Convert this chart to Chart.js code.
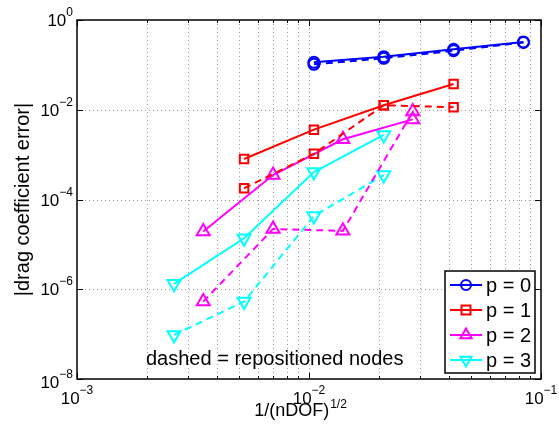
<!DOCTYPE html>
<html>
<head>
<meta charset="utf-8">
<script src="https://cdn.jsdelivr.net/npm/chart.js@4.4.1/dist/chart.umd.min.js"></script>
<style>
  html, body { margin: 0; padding: 0; background: #fff; }
  #wrap { width: 559px; height: 437px; }
</style>
</head>
<body>
<div id="wrap"><canvas id="mycanvas"></canvas></div>
<script>
// values
var labels = ["p = 0", "p = 1", "p = 2", "p = 3"];
var colors = ["#0000ff", "#ff0000", "#ff00ff", "#00ffff"];
var markers = ["circle", "rect", "triangle", "triangleDown"];

var xP0 = [0.0105, 0.021, 0.042, 0.084];
var p0Solid = [0.114, 0.152, 0.222, 0.324];
var p0Dashed = [0.103, 0.140, 0.207, 0.315];

var xP1 = [0.00525, 0.0105, 0.021, 0.042];
var p1Solid = [8.0e-4, 3.6e-3, 1.26e-2, 3.76e-2];
var p1Dashed = [1.78e-4, 1.04e-3, 1.26e-2, 1.14e-2];

var xP2 = [0.0035, 0.007, 0.014, 0.028];
var p2Solid = [1.93e-5, 3.5e-4, 2.2e-3, 6.1e-3];
var p2Dashed = [5.3e-7, 2.2e-5, 2.0e-5, 9.1e-3];

var xP3 = [0.00262, 0.00525, 0.0105, 0.021];
var p3Solid = [1.32e-6, 1.37e-5, 4.1e-4, 2.75e-3];
var p3Dashed = [9.6e-8, 5.3e-7, 4.3e-5, 3.5e-4];

var xTicks = [1e-3, 1e-2, 1e-1];
var xTickExp = ["\u22123", "\u22122", "\u22121"];
var yTicks = [1e-8, 1e-6, 1e-4, 1e-2, 1e0];
var yTickExp = ["\u22128", "\u22126", "\u22124", "\u22122", "0"];

var FONT = '"Liberation Sans", Arial, Helvetica, sans-serif';

function pts(xs, ys) {
  var out = [];
  for (var i = 0; i < xs.length; i++) out.push({x: xs[i], y: ys[i]});
  return out;
}

var xs = [xP0, xP1, xP2, xP3];
var solid = [p0Solid, p1Solid, p2Solid, p3Solid];
var dashed = [p0Dashed, p1Dashed, p2Dashed, p3Dashed];
var radii = [5.5, 6, 7.5, 7.5];

var datasets = [];
for (var k = 0; k < 4; k++) {
  var style = markers[k] == "triangleDown" ? "triangle" : markers[k];
  var rot = markers[k] == "triangleDown" ? 180 : 0;
  [false, true].forEach(function(isDash) {
    datasets.push({
      label: labels[k] + (isDash ? " dashed" : ""),
      data: pts(xs[k], isDash ? dashed[k] : solid[k]),
      borderColor: colors[k],
      backgroundColor: "rgba(0,0,0,0)",
      borderWidth: 2,
      borderDash: isDash ? [7, 5] : [],
      pointStyle: style,
      rotation: rot,
      pointRadius: radii[k],
      pointBorderWidth: 2,
      pointBorderColor: colors[k],
      pointBackgroundColor: "rgba(0,0,0,0)",
      tension: 0,
      fill: false,
      isDash: isDash
    });
  });
}

function minorX() {
  var out = [];
  for (var d = -3; d < -1; d++) {
    for (var m = 1; m <= 9; m++) out.push(m * Math.pow(10, d));
  }
  out.push(1e-1);
  return out;
}

function drawMarker(ctx, type, x, y, r) {
  ctx.beginPath();
  if (type == "circle") {
    ctx.arc(x, y, r, 0, Math.PI * 2);
  } else if (type == "rect") {
    ctx.rect(x - r, y - r, 2 * r, 2 * r);
  } else if (type == "triangle") {
    ctx.moveTo(x, y - r);
    ctx.lineTo(x + r * 0.866, y + r * 0.5);
    ctx.lineTo(x - r * 0.866, y + r * 0.5);
    ctx.closePath();
  } else {
    ctx.moveTo(x, y + r);
    ctx.lineTo(x + r * 0.866, y - r * 0.5);
    ctx.lineTo(x - r * 0.866, y - r * 0.5);
    ctx.closePath();
  }
  ctx.stroke();
}

// base "10" with exponent; align: 'center' or 'right'
function drawPow(ctx, exp, x, y, align) {
  var bf = "17px " + FONT, ef = "12px " + FONT;
  ctx.font = bf;
  var wb = ctx.measureText("10").width;
  ctx.font = ef;
  var we = ctx.measureText(exp).width;
  var left = align == "right" ? x - wb - we : x - (wb + we) / 2;
  ctx.textAlign = "left";
  ctx.textBaseline = "alphabetic";
  ctx.fillStyle = "#000";
  ctx.font = bf;
  ctx.fillText("10", left, y);
  ctx.font = ef;
  ctx.fillText(exp, left + wb, y - 10);
}

var gridPlugin = {
  id: "matlabGrid",
  beforeDatasetsDraw: function(chart) {
    var ctx = chart.ctx, a = chart.chartArea;
    var sx = chart.scales.x, sy = chart.scales.y;
    ctx.save();
    ctx.strokeStyle = "#9a9a9a";
    ctx.lineWidth = 1;
    ctx.setLineDash([1, 3]);
    minorX().forEach(function(v) {
      var px = Math.round(sx.getPixelForValue(v)) + 0.5;
      if (px <= a.left + 1 || px >= a.right - 1) return;
      ctx.beginPath(); ctx.moveTo(px, a.top); ctx.lineTo(px, a.bottom); ctx.stroke();
    });
    yTicks.forEach(function(v) {
      var py = Math.round(sy.getPixelForValue(v)) + 0.5;
      if (py <= a.top + 1 || py >= a.bottom - 1) return;
      ctx.beginPath(); ctx.moveTo(a.left, py); ctx.lineTo(a.right, py); ctx.stroke();
    });
    ctx.restore();
  },
  afterDraw: function(chart) {
    var ctx = chart.ctx, a = chart.chartArea;
    var sx = chart.scales.x, sy = chart.scales.y;
    ctx.save();
    ctx.setLineDash([]);
    ctx.strokeStyle = "#000";
    ctx.lineWidth = 1.5;
    ctx.strokeRect(a.left, a.top, a.right - a.left, a.bottom - a.top);

    // tick marks inside the box
    ctx.lineWidth = 1;
    minorX().forEach(function(v) {
      var px = Math.round(sx.getPixelForValue(v)) + 0.5;
      var major = xTicks.indexOf(v) >= 0;
      var len = major ? 6 : 3;
      ctx.beginPath();
      ctx.moveTo(px, a.bottom); ctx.lineTo(px, a.bottom - len);
      ctx.moveTo(px, a.top); ctx.lineTo(px, a.top + len);
      ctx.stroke();
    });
    yTicks.forEach(function(v) {
      var py = Math.round(sy.getPixelForValue(v)) + 0.5;
      ctx.beginPath();
      ctx.moveTo(a.left, py); ctx.lineTo(a.left + 6, py);
      ctx.moveTo(a.right, py); ctx.lineTo(a.right - 6, py);
      ctx.stroke();
    });

    // tick labels
    xTicks.forEach(function(v, i) {
      drawPow(ctx, xTickExp[i], sx.getPixelForValue(v), a.bottom + 25, "center");
    });
    yTicks.forEach(function(v, i) {
      var py = sy.getPixelForValue(v);
      if (i == 0) py += 3;
      drawPow(ctx, yTickExp[i], a.left - 4, py + 6, "right");
    });

    // axis titles
    ctx.fillStyle = "#000";
    ctx.textBaseline = "alphabetic";
    var xt = "1/(nDOF)", xs2 = "1/2";
    ctx.font = "18px " + FONT;
    var w1 = ctx.measureText(xt).width;
    ctx.font = "12px " + FONT;
    var w2 = ctx.measureText(xs2).width;
    var lx = 300 - (w1 + w2) / 2;
    ctx.textAlign = "left";
    ctx.font = "18px " + FONT;
    ctx.fillText(xt, lx, 416);
    ctx.font = "12px " + FONT;
    ctx.fillText(xs2, lx + w1 + 1, 408);

    ctx.save();
    ctx.translate(29, (a.top + a.bottom) / 2);
    ctx.rotate(-Math.PI / 2);
    ctx.textAlign = "center";
    ctx.font = "20px " + FONT;
    ctx.fillText("|drag coefficient error|", 0, 0);
    ctx.restore();

    // note
    ctx.textAlign = "left";
    ctx.font = "20px " + FONT;
    ctx.fillText("dashed = repositioned nodes", 146, 365);

    // legend
    var bx = 445, by = 271, bw = 90, bh = 102;
    ctx.fillStyle = "#fff";
    ctx.fillRect(bx, by, bw, bh);
    ctx.strokeStyle = "#000";
    ctx.lineWidth = 1.5;
    ctx.strokeRect(bx, by, bw, bh);
    for (var k = 0; k < 4; k++) {
      var cy = 285 + k * 25;
      ctx.strokeStyle = colors[k];
      ctx.lineWidth = 2;
      ctx.beginPath(); ctx.moveTo(450, cy); ctx.lineTo(482, cy); ctx.stroke();
      drawMarker(ctx, markers[k], 466, cy, k == 1 ? 4.5 : (k == 0 ? 5 : 6.5));
      ctx.fillStyle = "#000";
      ctx.font = "20px " + FONT;
      ctx.textBaseline = "middle";
      ctx.fillText(labels[k], 486, cy + 1);
    }
    ctx.restore();
  }
};

var ctx = document.getElementById("mycanvas");
new Chart(ctx, {
  type: "line",
  data: { datasets: datasets },
  options: {
    responsive: true,
    maintainAspectRatio: false,
    animation: false,
    layout: { padding: { left: 77, right: 18, top: 20, bottom: 58 } },
    plugins: { legend: { display: false }, tooltip: { enabled: false } },
    scales: {
      x: {
        type: "logarithmic",
        min: 1e-3, max: 1e-1,
        display: false
      },
      y: {
        type: "logarithmic",
        min: 1e-8, max: 1e0,
        display: false
      }
    }
  },
  plugins: [gridPlugin]
});
</script>
</body>
</html>
